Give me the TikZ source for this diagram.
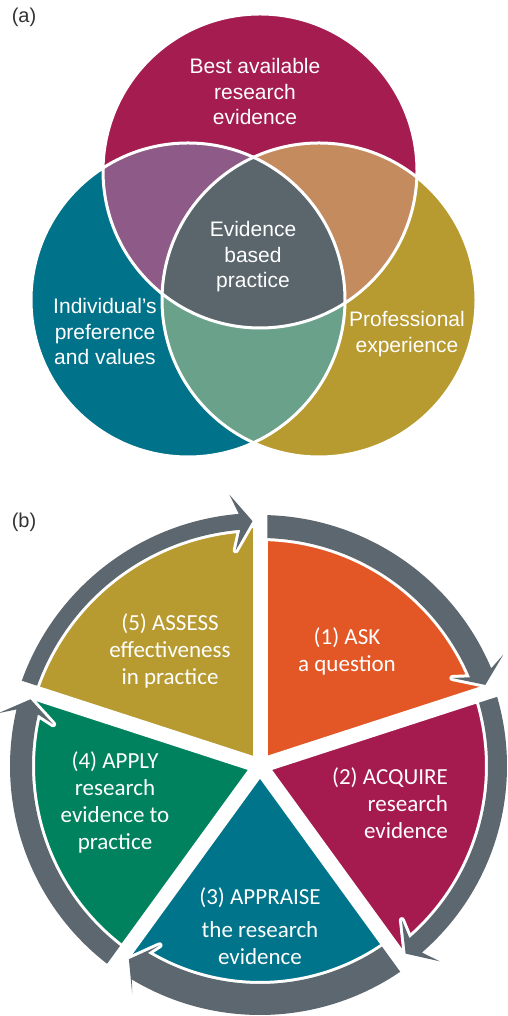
\documentclass[tikz,border=0pt]{standalone}
\usepackage{fontspec}
\setmainfont{Liberation Sans}
\newfontfamily\cyclefont{Carlito}
\usetikzlibrary{calc}
\definecolor{venntop}{RGB}{164,28,80}
\definecolor{vennleft}{RGB}{0,114,138}
\definecolor{vennright}{RGB}{183,154,48}
\definecolor{venntl}{RGB}{142,90,135}
\definecolor{venntr}{RGB}{196,139,94}
\definecolor{vennlr}{RGB}{106,161,138}
\definecolor{vennall}{RGB}{90,101,108}
\definecolor{cycorange}{RGB}{227,86,38}
\definecolor{cyccrimson}{RGB}{165,27,80}
\definecolor{cycteal}{RGB}{0,116,138}
\definecolor{cycgreen}{RGB}{0,130,95}
\definecolor{cycgold}{RGB}{183,154,48}
\definecolor{arrowgray}{RGB}{93,103,111}
\tikzset{
	venntext/.style={text=white, align=center, inner sep=0pt, font=\fontsize{21}{25.5}\selectfont},
	cycletext/.style={text=white, align=center, inner sep=0pt, font=\cyclefont\fontsize{23}{27}\selectfont},
	panellabel/.style={text=black!80, inner sep=0pt, font=\fontsize{20}{24}\selectfont},
	arrowband/.style={fill=arrowgray, preaction={draw=white, line width=6pt, line join=round}},
	gapline/.style={draw=white, line width=15pt},
}

\begin{document}
\begin{tikzpicture}[x=1pt, y=1pt]
			%%%%% START %%%%%
			\useasboundingbox (0, 0) rectangle (507, 1016);
			
			%%%%% (a) %%%%%
			\node[panellabel] (lbla) at (24, 999) {(a)};
			
			\coordinate (T) at (260, 845);
			\coordinate (L) at (188, 716);
			\coordinate (R) at (319, 716);
			
			\fill[venntop] (T) circle (157);
			\fill[vennleft] (L) circle (157);
			\fill[vennright] (R) circle (157);
			\begin{scope}
				\clip (T) circle (157);
				\fill[venntl] (L) circle (157);
				\fill[venntr] (R) circle (157);
			\end{scope}
			\begin{scope}
				\clip (L) circle (157);
				\fill[vennlr] (R) circle (157);
			\end{scope}
			\begin{scope}
				\clip (T) circle (157);
				\clip (L) circle (157);
				\fill[vennall] (R) circle (157);
			\end{scope}
			\draw[white, line width=3pt] (T) circle (157);
			\draw[white, line width=3pt] (L) circle (157);
			\draw[white, line width=3pt] (R) circle (157);
			
			\node[venntext] (best) at (255, 924) {Best available\\research\\evidence};
			\node[venntext] (ebp) at (253, 759) {Evidence\\based\\practice};
			\node[venntext] (indiv) at (105, 684) {Individual’s\\preference\\and values};
			\node[venntext] (prof) at (407, 682) {Professional\\experience};
			
			%%%%% (b) %%%%%
			\node[panellabel] (lblb) at (24, 494) {(b)};
			
			\coordinate (C) at (260, 250);
			
			\fill[cycorange] (C) -- ($(C)+(18:238)$) arc[start angle=18, end angle=90, radius=238] -- cycle;
			\fill[cyccrimson] (C) -- ($(C)+(-54:238)$) arc[start angle=-54, end angle=18, radius=238] -- cycle;
			\fill[cycteal] (C) -- ($(C)+(-126:238)$) arc[start angle=-126, end angle=-54, radius=238] -- cycle;
			\fill[cycgreen] (C) -- ($(C)+(162:238)$) arc[start angle=162, end angle=234, radius=238] -- cycle;
			\fill[cycgold] (C) -- ($(C)+(90:238)$) arc[start angle=90, end angle=162, radius=238] -- cycle;
			
			\foreach \g in {90, 18, -54, -126, 162}
				\draw[gapline] (C) -- ($(C)+(\g:245)$);
			
			% one arrow per step: tail angle / inner radius / outer radius
			\foreach \a/\ri/\ro in {90/228/251, 18/228/247, -54/218/249, -126/228/250, 162/237/253} {
				\pgfmathsetmacro{\rmid}{(\ri+\ro)/2}
				\pgfmathsetmacro{\tipang}{\a-72+asin(7.5/\rmid)}
				\pgfmathsetmacro{\barbang}{\tipang+20/\rmid*180/pi}
				\pgfmathsetmacro{\joinang}{\barbang-7/\rmid*180/pi}
				\pgfmathsetmacro{\tailin}{\a-asin(7.5/\ri)}
				\pgfmathsetmacro{\tailout}{\a-asin(7.5/\ro)}
				\path[arrowband] ($(C)+(\tailout:\ro)$) arc[start angle=\tailout, end angle=\joinang, radius=\ro]
					-- ($(C)+(\barbang:\rmid+28)$) -- ($(C)+(\tipang:\rmid)$) -- ($(C)+(\barbang:\rmid-28)$)
					-- ($(C)+(\joinang:\ri)$) arc[start angle=\joinang, end angle=\tailin, radius=\ri] -- cycle;
			}
			
			\node[cycletext] (ask) at (347, 365) {(1) ASK\\a question};
			\node[cycletext, align=right, anchor=east] (acquire) at (448, 213) {(2) ACQUIRE\\research\\evidence};
			\node[cycletext] (appraise) at (260, 90) {(3) APPRAISE\\[6pt]the research\\evidence};
			\node[cycletext] (apply) at (115, 214) {(4) APPLY\\research\\evidence to\\practice};
			\node[cycletext] (assess) at (170, 365) {(5) ASSESS\\effectiveness\\in practice};
			
			%%%%% END %%%%%
\end{tikzpicture}
\end{document}
